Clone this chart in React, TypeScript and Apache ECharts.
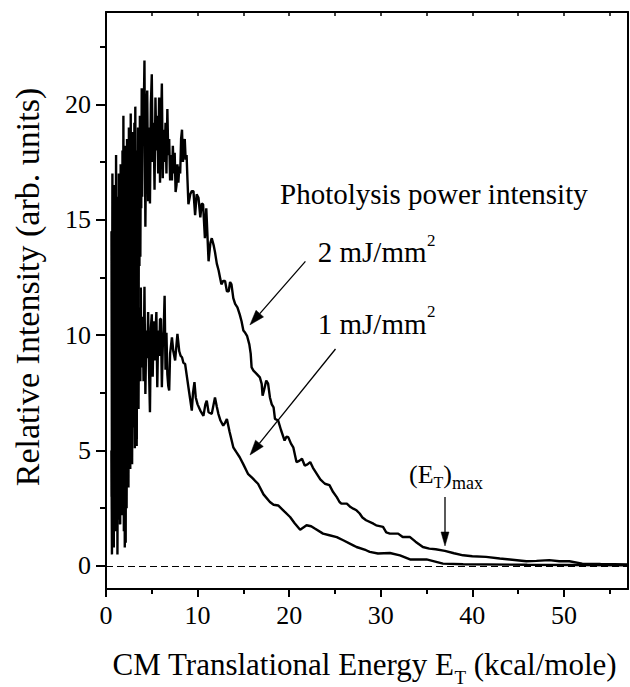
import React, { useEffect, useRef } from "react";
import * as echarts from "echarts";

// ---------- data ----------
const X_MAJOR = [0, 10, 20, 30, 40, 50];
const X_MINOR = [5, 15, 25, 35, 45, 55];
const X_TOP = [5, 10, 15, 20, 25, 30, 35, 40, 45, 50, 55];
const Y_MAJOR = [0, 5, 10, 15, 20];
const Y_MINOR = [2.5, 7.5, 12.5, 17.5, 22.5];

// 2 mJ/mm^2 photolysis intensity  [E_T (kcal/mole), intensity]
const SERIES_2MJ: [number, number][] = [
  [0.6, 14.5], [0.65, 3.0], [0.7, 17.0], [0.75, 1.5], [0.8, 15.0], [0.85, 5.0], [0.9, 16.5], [0.95, 2.0],
  [1.0, 14.0], [1.05, 6.5], [1.1, 17.8], [1.15, 3.0], [1.2, 12.0], [1.25, 1.8], [1.3, 16.0], [1.35, 7.0],
  [1.4, 17.0], [1.45, 2.5], [1.5, 15.5], [1.55, 8.0], [1.6, 17.4], [1.65, 4.0], [1.7, 13.5], [1.75, 2.8],
  [1.8, 18.0], [1.85, 9.0], [1.9, 19.5], [1.95, 3.5], [2.0, 16.0], [2.05, 6.0], [2.1, 18.2], [2.15, 1.0],
  [2.2, 15.0], [2.25, 8.5], [2.3, 18.5], [2.35, 3.5], [2.4, 17.0], [2.45, 10.0], [2.5, 19.0], [2.55, 5.5],
  [2.6, 16.0], [2.65, 11.0], [2.7, 19.6], [2.75, 4.5], [2.8, 17.5], [2.85, 9.5], [2.9, 18.8], [2.95, 12.5],
  [3.0, 17.0], [3.05, 6.5], [3.1, 19.2], [3.15, 10.5], [3.2, 19.9], [3.25, 12.1], [3.3, 18.0], [3.35, 5.2],
  [3.4, 17.5], [3.45, 14.0], [3.5, 19.0], [3.55, 8.0], [3.6, 18.2], [3.65, 13.0], [3.7, 19.5], [3.75, 13.4],
  [3.8, 18.0], [3.85, 15.5], [3.9, 20.7], [3.95, 16.0], [4.0, 19.0],
  [4.1, 19.0], [4.2, 21.9], [4.3, 14.7], [4.4, 19.5], [4.5, 20.6],
  [4.6, 15.8], [4.7, 19.0], [4.8, 15.7], [4.9, 20.0], [5.0, 21.3], [5.1, 17.5], [5.2, 19.2], [5.3, 16.3],
  [5.4, 20.3], [5.5, 18.0], [5.6, 19.5], [5.7, 17.0], [5.8, 20.3], [5.9, 16.6], [6.0, 19.0], [6.1, 20.9],
  [6.2, 16.8], [6.3, 18.9], [6.4, 17.5], [6.5, 19.2], [6.6, 17.0], [6.7, 19.8], [6.8, 17.8], [6.9, 18.5],
  [7.0, 16.7], [7.1, 17.8], [7.2, 16.7], [7.3, 18.2], [7.4, 17.0], [7.5, 17.9], [7.6, 16.2], [7.7, 16.5],
  [7.8, 17.4], [7.9, 16.6], [8.0, 17.3], [8.1, 17.0], [8.2, 18.5], [8.3, 18.9], [8.4, 17.5], [8.5, 18.1],
  [8.6, 18.5], [8.7, 17.6], [8.8, 17.8], [8.9, 16.7], [9.0, 15.67], [9.2, 16.1], [9.37, 16.24], [9.55, 16.24],
  [9.73, 15.2], [9.9, 16.1], [10.1, 15.95], [10.3, 15.1], [10.45, 15.7], [10.6, 15.67], [10.8, 14.2], [10.95, 15.5],
  [11.2, 13.2], [11.4, 14.0], [11.55, 14.2], [11.75, 13.9], [11.9, 13.6], [12.1, 13.1], [12.3, 12.8], [12.45, 12.5],
  [12.6, 12.2], [12.8, 12.35], [13.0, 12.35], [13.2, 11.9], [13.4, 11.9], [13.55, 12.3], [13.7, 12.2], [13.9, 11.6],
  [14.1, 11.35], [14.35, 11.2], [14.6, 10.9], [14.8, 10.6], [15.0, 10.2], [15.2, 10.1], [15.4, 9.97], [15.65, 9.6],
  [15.8, 9.2], [15.9, 8.6], [16.1, 8.46], [16.45, 8.32], [16.8, 8.17], [17.0, 7.89], [17.1, 7.38], [17.25, 7.6],
  [17.5, 8.03], [17.7, 7.9], [17.9, 7.3], [18.1, 7.0], [18.3, 6.87], [18.45, 6.37], [18.8, 6.3], [19.1, 5.9],
  [19.5, 5.43], [19.7, 5.6], [19.9, 5.58], [20.2, 5.3], [20.45, 5.14], [20.8, 4.5], [21.1, 4.55], [21.4, 4.64],
  [21.7, 4.35], [22.0, 4.4], [22.3, 4.5], [22.6, 4.25], [23.0, 4.0], [23.4, 3.75], [23.9, 3.56], [24.4, 3.5],
  [24.8, 3.2], [25.2, 2.98], [25.5, 2.77], [25.7, 2.7], [26.3, 2.7], [26.7, 2.55], [27.0, 2.48], [27.35, 2.41],
  [27.7, 2.27], [28.0, 2.1], [28.4, 1.98], [29.2, 1.83], [29.5, 1.76], [30.25, 1.69], [30.6, 1.45], [31.0, 1.4],
  [31.9, 1.4], [32.4, 1.25], [33.2, 1.25], [33.8, 1.05], [34.6, 0.82], [35.3, 0.75], [36.0, 0.72], [37.0, 0.65],
  [38.0, 0.55], [39.0, 0.46], [40.0, 0.42], [41.5, 0.39], [43.0, 0.32], [44.1, 0.28], [45.9, 0.2], [47.0, 0.22],
  [48.4, 0.25], [49.5, 0.2], [50.6, 0.2], [52.0, 0.1], [54.0, 0.08], [57.0, 0.06],
];

// 1 mJ/mm^2 photolysis intensity
const SERIES_1MJ: [number, number][] = [
  [0.6, 5.0], [0.65, 0.5], [0.7, 9.0], [0.75, 2.5], [0.8, 10.5], [0.85, 0.8], [0.9, 8.0], [0.95, 3.5],
  [1.0, 10.0], [1.05, 1.5], [1.1, 9.0], [1.15, 4.0], [1.2, 11.0], [1.25, 0.5], [1.3, 8.5], [1.35, 2.0],
  [1.4, 9.5], [1.45, 5.0], [1.5, 11.5], [1.55, 1.8], [1.6, 10.0], [1.65, 3.0], [1.7, 7.5], [1.75, 2.2],
  [1.8, 10.8], [1.85, 4.5], [1.9, 9.0], [1.95, 1.5], [2.0, 10.5], [2.05, 0.8], [2.1, 8.5], [2.15, 3.6],
  [2.2, 11.0], [2.25, 2.5], [2.3, 9.5], [2.35, 4.8], [2.4, 11.2], [2.45, 3.4], [2.5, 9.8], [2.55, 5.5],
  [2.6, 11.8], [2.65, 4.2], [2.7, 10.2], [2.75, 6.5], [2.8, 9.5], [2.85, 4.4], [2.9, 10.8], [2.95, 6.0],
  [3.0, 10.5], [3.05, 7.0], [3.1, 9.2], [3.15, 5.1], [3.2, 11.0], [3.25, 6.4], [3.3, 10.0], [3.35, 5.5],
  [3.4, 11.7], [3.45, 7.5], [3.5, 10.5], [3.55, 6.8], [3.6, 11.2], [3.65, 8.3], [3.7, 10.4], [3.75, 8.0],
  [3.8, 12.06], [3.85, 8.6], [3.9, 10.8], [3.95, 9.0], [4.0, 10.8],
  [4.1, 8.0], [4.2, 12.1], [4.3, 7.45], [4.4, 10.2], [4.5, 9.0],
  [4.6, 11.0], [4.7, 8.5], [4.8, 6.66], [4.9, 10.3], [5.0, 10.9], [5.1, 8.2], [5.2, 10.6], [5.3, 8.9],
  [5.4, 10.0], [5.5, 11.0], [5.6, 7.74], [5.7, 10.2], [5.8, 9.1], [5.9, 10.7], [6.0, 10.7], [6.1, 7.74],
  [6.2, 9.5], [6.3, 10.2], [6.4, 11.7], [6.5, 8.5], [6.6, 10.1], [6.7, 8.3], [6.8, 7.8], [6.9, 7.6],
  [7.0, 9.2], [7.2, 9.9], [7.35, 9.3], [7.55, 8.9], [7.8, 10.05], [8.0, 9.3], [8.15, 9.1], [8.3, 9.04],
  [8.45, 8.8], [8.64, 8.75], [8.8, 8.3], [9.0, 7.74], [9.2, 7.2], [9.37, 6.73], [9.5, 7.5], [9.66, 7.96],
  [9.8, 7.3], [10.0, 7.0], [10.3, 6.73], [10.64, 6.5], [10.85, 7.0], [11.0, 7.16], [11.2, 6.66], [11.55, 6.59],
  [11.75, 7.0], [11.9, 7.3], [12.1, 6.9], [12.27, 6.59], [12.5, 6.3], [12.8, 6.08], [13.0, 6.2], [13.2, 6.37],
  [13.5, 5.8], [13.9, 5.14], [14.2, 4.95], [14.6, 4.71], [15.0, 4.4], [15.5, 3.99], [16.0, 3.8], [16.6, 3.56],
  [17.2, 3.1], [17.9, 2.77], [18.3, 2.65], [18.8, 2.62], [19.5, 2.35], [20.1, 2.12], [20.6, 1.85], [21.2, 1.57],
  [21.9, 1.76], [22.4, 1.72], [22.8, 1.62], [23.7, 1.4], [24.4, 1.33], [25.2, 1.25], [25.9, 1.11], [27.0, 0.89],
  [27.35, 0.82], [28.4, 0.68], [28.8, 0.61], [29.7, 0.54], [31.0, 0.56], [32.1, 0.46], [33.2, 0.28], [35.0, 0.28],
  [36.8, 0.1], [39.0, 0.07], [46.0, 0.05], [57.0, 0.03],
];

// ---------- helpers ----------
const FONT = "Liberation Serif, Times New Roman, serif";

function measure(s: string, size: number): number {
  const c = document.createElement("canvas").getContext("2d");
  if (!c) return s.length * size * 0.45;
  c.font = `${size}px "Liberation Serif", serif`;
  return c.measureText(s).width;
}

function txt(text: string, x: number, base: number, size: number, align = "left", extra: any = {}) {
  return {
    type: "text",
    x,
    y: base - 0.3375 * size,
    silent: true,
    style: { text, fill: "#000", fontSize: size, fontFamily: FONT, align, verticalAlign: "middle" },
    ...extra,
  };
}

type Part = { t: string; size: number; dy: number };
function seq(parts: Part[], startX: number, base: number) {
  const out: any[] = [];
  let x = startX;
  for (const p of parts) {
    out.push(txt(p.t, x, base + p.dy, p.size, "left"));
    x += measure(p.t, p.size);
  }
  return out;
}
function seqWidth(parts: Part[]) {
  return parts.reduce((a, p) => a + measure(p.t, p.size), 0);
}

function arrow(x1: number, y1: number, x2: number, y2: number, headLen = 15, headHalf = 5) {
  const dx = x2 - x1, dy = y2 - y1;
  const L = Math.hypot(dx, dy);
  const ux = dx / L, uy = dy / L;
  const bx = x2 - ux * headLen, by = y2 - uy * headLen;
  const px = -uy * headHalf, py = ux * headHalf;
  return [
    { type: "line", silent: true, shape: { x1, y1, x2: bx, y2: by }, style: { stroke: "#000", lineWidth: 1.3 } },
    {
      type: "polygon",
      silent: true,
      shape: { points: [[x2, y2], [bx + px, by + py], [bx - px, by - py]] },
      style: { fill: "#000", stroke: "#000", lineWidth: 0.5 },
    },
  ];
}

export default function App() {
  const ref = useRef<HTMLDivElement>(null);

  useEffect(() => {
    const el = ref.current;
    if (!el) return;
    const chart = echarts.init(el, null, { renderer: "svg" });

    const lineStyle = { color: "#000", width: 2 };
    const tickStyle = { color: "#000", width: 2 };
    const labelStyle = { color: "#000", fontSize: 26, fontFamily: FONT };

    // x-axis title with subscript
    const XS = 31;
    const xTitle: Part[] = [
      { t: "CM Translational Energy E", size: XS, dy: 0 },
      { t: "T", size: 19, dy: 9 },
      { t: " (kcal/mole)", size: XS, dy: 0 },
    ];
    const xTitleStart = 364.6 - seqWidth(xTitle) / 2;

    const etMax: Part[] = [
      { t: "(E", size: 26, dy: 0 },
      { t: "T", size: 16, dy: 5 },
      { t: ")", size: 26, dy: 0 },
      { t: "max", size: 18, dy: 6 },
    ];

    const graphics: any[] = [
      // y-axis title
      {
        type: "text",
        x: 27,
        y: 287,
        rotation: Math.PI / 2,
        silent: true,
        style: {
          text: "Relative Intensity (arb. units)",
          fill: "#000",
          fontSize: 34,
          fontFamily: FONT,
          align: "center",
          verticalAlign: "middle",
        },
      },
      ...seq(xTitle, xTitleStart, 675),
      txt("Photolysis power intensity", 280, 203.5, 29),
      txt("2 mJ/mm", 426.5, 261.5, 29, "right"),
      { ...txt("2", 427, 0, 17), y: 240 },
      txt("1 mJ/mm", 426.5, 333.3, 29, "right"),
      { ...txt("2", 427, 0, 17), y: 311.3 },
      ...seq(etMax, 409, 483),
      ...arrow(305.4, 261.4, 249.9, 324.9),
      ...arrow(335.5, 349, 250, 455),
      ...arrow(445, 497, 445, 546, 14, 4),
    ];

    const option: any = {
      animation: false,
      backgroundColor: "#fff",
      grid: { left: 106, right: 2, top: 12, bottom: 98, containLabel: false, outerBoundsMode: "none" },
      xAxis: [
        {
          type: "value",
          min: 0,
          max: 57,
          position: "bottom",
          axisLine: { show: true, onZero: false, lineStyle },
          axisTick: { show: true, inside: false, length: 8, lineStyle: tickStyle, customValues: X_MAJOR },
          axisLabel: { show: true, customValues: X_MAJOR, margin: 13, ...labelStyle },
          splitLine: { show: false },
        },
        {
          type: "value",
          min: 0,
          max: 57,
          position: "bottom",
          axisLine: { show: false, onZero: false },
          axisTick: { show: true, inside: false, length: 5, lineStyle: tickStyle, customValues: X_MINOR },
          axisLabel: { show: false },
          splitLine: { show: false },
        },
        {
          type: "value",
          min: 0,
          max: 57,
          position: "top",
          axisLine: { show: true, onZero: false, lineStyle },
          axisTick: { show: true, inside: true, length: 4, lineStyle: { color: "#000", width: 1.5 }, customValues: X_TOP },
          axisLabel: { show: false },
          splitLine: { show: false },
        },
      ],
      yAxis: [
        {
          type: "value",
          min: -1,
          max: 24,
          position: "left",
          axisLine: { show: true, onZero: false, lineStyle },
          axisTick: { show: true, inside: false, length: 10, lineStyle: tickStyle, customValues: Y_MAJOR },
          axisLabel: { show: true, customValues: Y_MAJOR, margin: 15, ...labelStyle },
          splitLine: { show: false },
        },
        {
          type: "value",
          min: -1,
          max: 24,
          position: "left",
          axisLine: { show: false, onZero: false },
          axisTick: { show: true, inside: false, length: 6, lineStyle: tickStyle, customValues: Y_MINOR },
          axisLabel: { show: false },
          splitLine: { show: false },
        },
        {
          type: "value",
          min: -1,
          max: 24,
          position: "right",
          axisLine: { show: true, onZero: false, lineStyle },
          axisTick: { show: false },
          axisLabel: { show: false },
          splitLine: { show: false },
        },
      ],
      series: [
        {
          name: "2 mJ/mm2",
          type: "line",
          xAxisIndex: 0,
          yAxisIndex: 0,
          data: SERIES_2MJ,
          showSymbol: false,
          symbol: "none",
          silent: true,
          lineStyle: { color: "#000", width: 2.4 },
          z: 3,
          markLine: {
            silent: true,
            symbol: ["none", "none"],
            label: { show: false },
            lineStyle: { color: "#000", width: 1.2, type: [7, 4] },
            data: [{ yAxis: 0 }],
          },
        },
        {
          name: "1 mJ/mm2",
          type: "line",
          xAxisIndex: 0,
          yAxisIndex: 0,
          data: SERIES_1MJ,
          showSymbol: false,
          symbol: "none",
          silent: true,
          lineStyle: { color: "#000", width: 2.4 },
          z: 3,
        },
      ],
      graphic: graphics,
    };

    chart.setOption(option);
    return () => chart.dispose();
  }, []);

  return (
    <div
      ref={ref}
      style={{ position: "fixed", left: 0, top: 0, width: 630, height: 687, background: "#fff" }}
    />
  );
}
